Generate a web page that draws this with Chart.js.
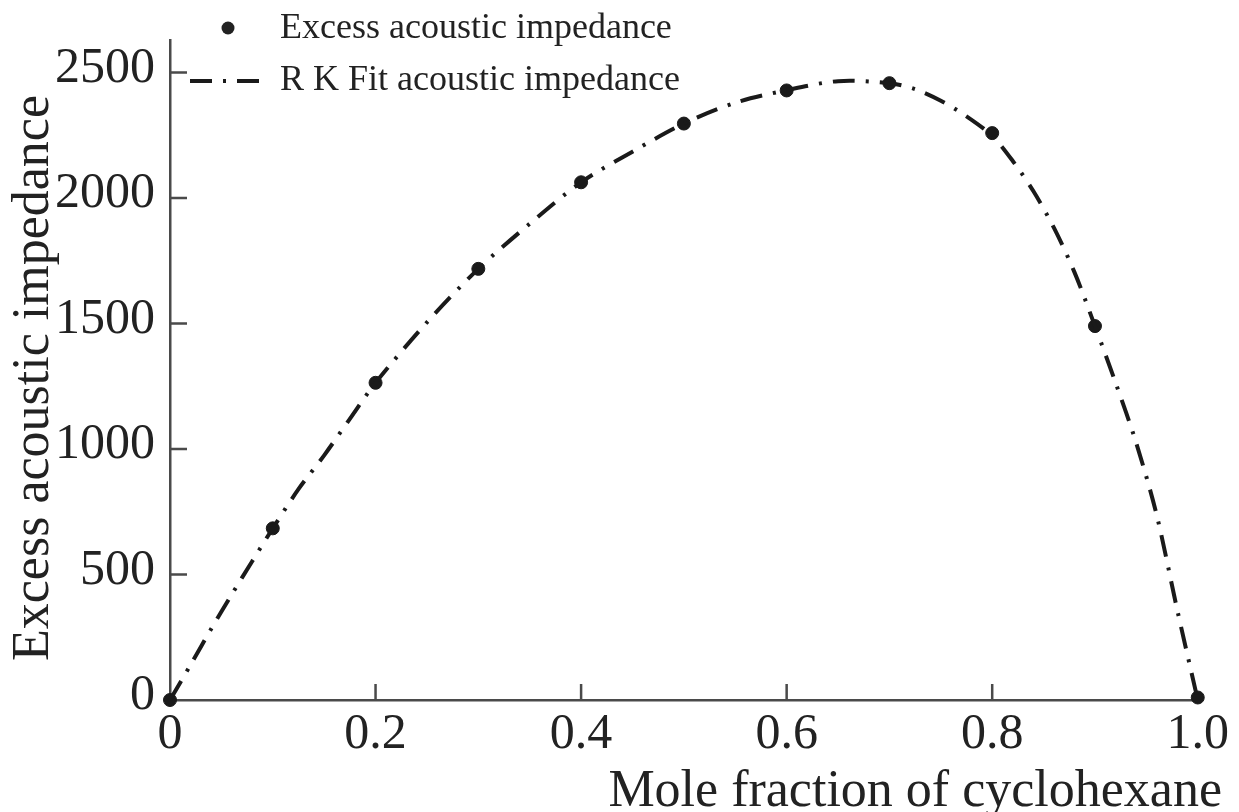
<!DOCTYPE html>
<html>
<head>
<meta charset="utf-8">
<script src="https://cdn.jsdelivr.net/npm/chart.js@4/dist/chart.umd.min.js"></script>
<style>
  body { margin: 0; background: #fff; }
  #wrap { width: 1239px; height: 812px; }
</style>
</head>
<body>
<div id="wrap"><canvas id="grafico"></canvas></div>
<script>
// measured points
var moleFraction = [0, 0.1, 0.2, 0.3, 0.4, 0.5, 0.6, 0.7, 0.8, 0.9, 1.0];
var excessImpedance = [0, 684, 1264, 1718, 2063, 2297, 2429, 2458, 2259, 1490, 10];

// R K fit curve
var fitX = [0, 0.02, 0.04, 0.06, 0.08, 0.1, 0.125, 0.15, 0.175, 0.2, 0.25, 0.3, 0.35, 0.4, 0.45, 0.5, 0.55, 0.6, 0.65, 0.7, 0.725, 0.75, 0.775, 0.8, 0.82, 0.84, 0.86, 0.88, 0.9, 0.92, 0.94, 0.96, 0.98, 1.0];
var fitY = [0, 140, 283, 420, 553, 684, 840, 975, 1120, 1264, 1505, 1718, 1898, 2063, 2185, 2297, 2380, 2430, 2466, 2458, 2434, 2388, 2326, 2248, 2148, 2028, 1882, 1705, 1490, 1265, 1026, 738, 360, 0];

var xTicks = [0, 0.2, 0.4, 0.6, 0.8, 1.0];
var xTickLabels = ['0', '0.2', '0.4', '0.6', '0.8', '1.0'];
var yTicks = [0, 500, 1000, 1500, 2000, 2500];

var serif = 'Liberation Serif';
var axisColor = '#4a4a4a';
var textColor = '#222';

function pares(xs, ys) {
    return xs.map(function (x, i) { return { x: x, y: ys[i] }; });
}

// ticks para dentro, titulos e legenda
var extras = {
    id: 'extras',
    afterDraw: function (chart) {
        var ctx = chart.ctx;
        var area = chart.chartArea;
        var sx = chart.scales.x, sy = chart.scales.y;
        ctx.save();
        ctx.strokeStyle = axisColor;
        ctx.lineWidth = 2.5;
        ctx.beginPath();
        xTicks.forEach(function (v) {
            if (v === 0 || v === 1) return;
            var px = sx.getPixelForValue(v);
            ctx.moveTo(px, area.bottom);
            ctx.lineTo(px, area.bottom - 16);
        });
        yTicks.forEach(function (v) {
            if (v === 0) return;
            var py = sy.getPixelForValue(v);
            ctx.moveTo(area.left, py);
            ctx.lineTo(area.left + 17, py);
        });
        ctx.stroke();

        ctx.fillStyle = textColor;
        ctx.font = '52px "' + serif + '"';
        ctx.textAlign = 'right';
        ctx.textBaseline = 'alphabetic';
        ctx.fillText('Mole fraction of cyclohexane', 1222, 806);

        ctx.save();
        ctx.translate(48, 378);
        ctx.rotate(-Math.PI / 2);
        ctx.textAlign = 'center';
        ctx.fillText('Excess acoustic impedance', 0, 0);
        ctx.restore();

        // legenda
        ctx.font = '36px "' + serif + '"';
        ctx.textAlign = 'left';
        ctx.textBaseline = 'middle';
        ctx.beginPath();
        ctx.arc(228, 28, 6.5, 0, Math.PI * 2);
        ctx.fill();
        ctx.fillText('Excess acoustic impedance', 280, 29);

        ctx.strokeStyle = '#1a1a1a';
        ctx.lineWidth = 4;
        ctx.setLineDash([22, 11, 3, 11]);
        ctx.beginPath();
        ctx.moveTo(190, 81);
        ctx.lineTo(262, 81);
        ctx.stroke();
        ctx.setLineDash([]);
        ctx.fillText('R K Fit acoustic impedance', 280, 81);
        ctx.restore();
    }
};

var ctxGrafico = document.getElementById('grafico').getContext('2d');
var grafico = new Chart(ctxGrafico, {
    type: 'scatter',
    data: {
        datasets: [{
            type: 'line',
            label: 'R K Fit acoustic impedance',
            data: pares(fitX, fitY),
            borderColor: '#1a1a1a',
            borderWidth: 4,
            borderDash: [22, 11, 3, 11],
            pointRadius: 0,
            tension: 0.3,
            fill: false,
            clip: false
        }, {
            label: 'Excess acoustic impedance',
            data: pares(moleFraction, excessImpedance),
            backgroundColor: '#1a1a1a',
            borderColor: '#1a1a1a',
            pointRadius: 6.5,
            clip: false
        }]
    },
    options: {
        responsive: true,
        maintainAspectRatio: false,
        animation: false,
        layout: { padding: { top: 34, right: 34, left: 0, bottom: 0 } },
        plugins: {
            legend: { display: false },
            tooltip: { enabled: false }
        },
        scales: {
            x: {
                type: 'linear',
                min: 0,
                max: 1,
                afterBuildTicks: function (scale) {
                    scale.ticks = xTicks.map(function (v) { return { value: v }; });
                },
                afterFit: function (scale) { scale.height = 112; },
                ticks: {
                    font: { family: serif, size: 50, lineHeight: 1 },
                    color: textColor,
                    padding: 10,
                    maxRotation: 0,
                    callback: function (v) {
                        var i = xTicks.indexOf(v);
                        return i >= 0 ? xTickLabels[i] : '';
                    }
                },
                grid: { display: true, drawOnChartArea: false, drawTicks: false },
                border: { display: true, color: axisColor, width: 2.5 }
            },
            y: {
                type: 'linear',
                min: 0,
                max: 2630,
                afterBuildTicks: function (scale) {
                    scale.ticks = yTicks.map(function (v) { return { value: v }; });
                },
                afterFit: function (scale) { scale.width = 170; },
                ticks: {
                    font: { family: serif, size: 50, lineHeight: 1 },
                    color: textColor,
                    padding: 15,
                    labelOffset: -4,
                    callback: function (v) { return String(v); }
                },
                grid: { display: true, drawOnChartArea: false, drawTicks: false },
                border: { display: true, color: axisColor, width: 2.5 }
            }
        }
    },
    plugins: [extras]
});
</script>
</body>
</html>
